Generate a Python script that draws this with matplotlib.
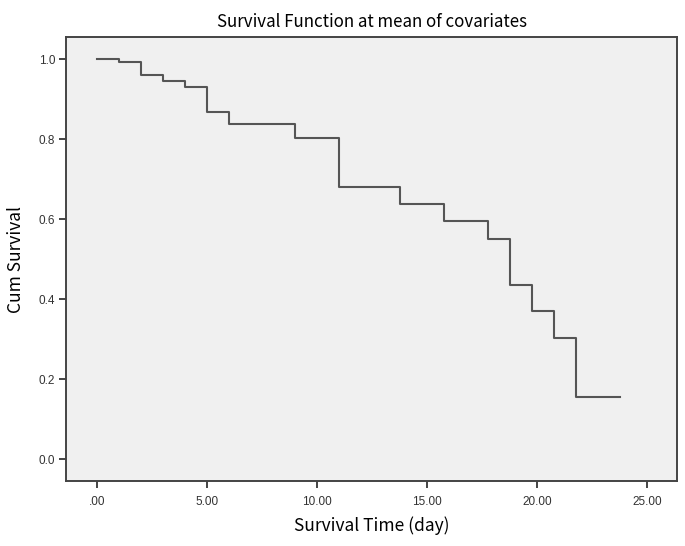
import matplotlib
matplotlib.use("Agg")
import matplotlib.pyplot as plt
from matplotlib.ticker import FuncFormatter

# survival step data
time = [0, 1, 2, 3, 4, 5, 6, 9, 11, 13.8, 15.8, 17.8, 18.8, 19.8, 20.8, 21.8, 23.8]
surv = [1.0, 0.993, 0.961, 0.945, 0.931, 0.869, 0.838, 0.804, 0.682, 0.638,
        0.597, 0.550, 0.435, 0.370, 0.303, 0.155, 0.155]

x_ticks = [0, 5, 10, 15, 20, 25]
y_ticks = [0.0, 0.2, 0.4, 0.6, 0.8, 1.0]

label_font = ['Noto Sans CJK SC', 'DejaVu Sans']
tick_font = ['Liberation Sans', 'DejaVu Sans']

fig = plt.figure(figsize=(6.85, 5.46), dpi=100)
ax = fig.add_axes([0.0968, 0.119, 0.8911, 0.8132])
ax.set_facecolor('#f0f0f0')

ax.step(time, surv, where='post', color='#555555', lw=1.5)

ax.set_xlim(-1.38, 26.36)
ax.set_ylim(-0.054, 1.0556)
ax.set_xticks(x_ticks)
ax.set_yticks(y_ticks)

def fmt_x(v, pos):
    s = '{:.2f}'.format(v)
    return s[1:] if s.startswith('0') else s

ax.xaxis.set_major_formatter(FuncFormatter(fmt_x))
ax.yaxis.set_major_formatter(FuncFormatter(lambda v, p: '{:.1f}'.format(v)))

for sp in ax.spines.values():
    sp.set_color('#444444')
    sp.set_linewidth(1.4)

ax.tick_params(direction='out', length=5, width=1.4, color='#444444',
               labelcolor='#333333', labelsize=8.5, pad=3)
for lab in ax.get_xticklabels() + ax.get_yticklabels():
    lab.set_family(tick_font)
ax.tick_params(axis='x', pad=6)

ax.set_title('Survival Function at mean of covariates', family=label_font,
             fontsize=12.2, pad=7)
ax.set_xlabel('Survival Time (day)', family=label_font, fontsize=12.5, labelpad=6)
ax.set_ylabel('Cum Survival', family=label_font, fontsize=12.5, labelpad=10)

fig.savefig('out.png', dpi=100)
